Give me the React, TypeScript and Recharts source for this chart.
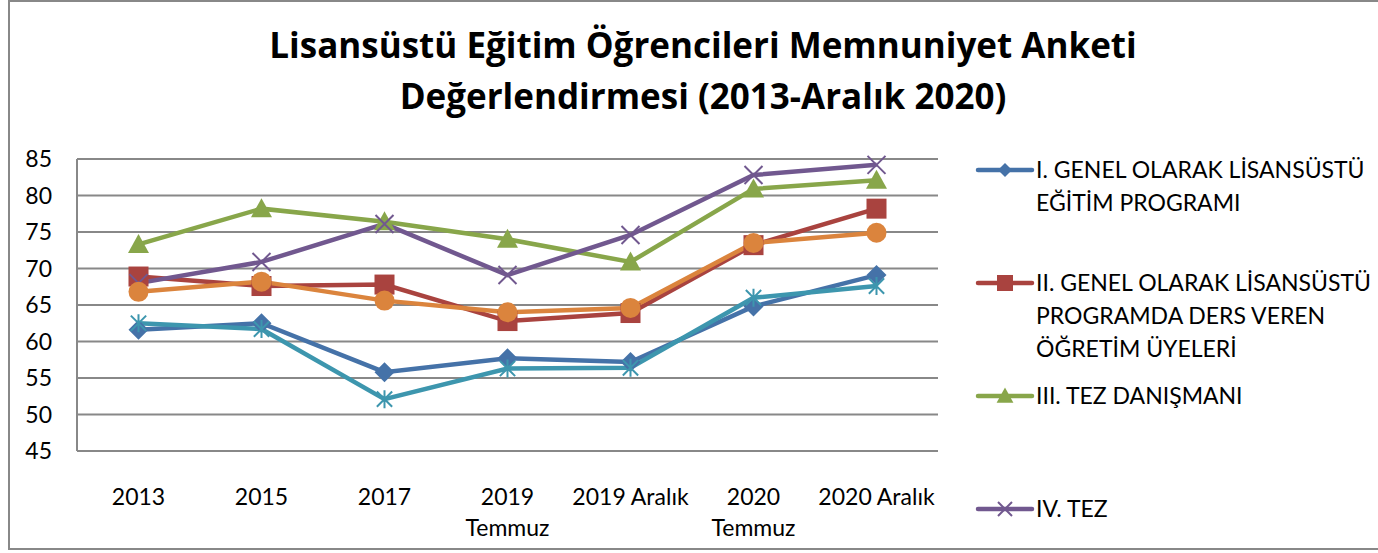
import React from 'react';
import { LineChart, Line, XAxis, YAxis, CartesianGrid } from 'recharts';

// categories and series
const categories = ['2013', '2015', '2017', '2019\nTemmuz', '2019 Aralık', '2020\nTemmuz', '2020 Aralık'];
const genelEgitim = [61.6, 62.5, 55.8, 57.7, 57.2, 64.8, 69.1];
const dersVeren = [68.9, 67.6, 67.8, 62.8, 63.9, 73.2, 78.2];
const tezDanismani = [73.3, 78.2, 76.4, 74.0, 70.9, 80.9, 82.1];
const tez = [68.0, 70.9, 76.1, 69.1, 74.6, 82.8, 84.2];
const seri5 = [66.8, 68.2, 65.6, 64.0, 64.6, 73.5, 74.9];
const seri6 = [62.5, 61.7, 52.1, 56.3, 56.4, 66.0, 67.6];
const yTicks = [45, 50, 55, 60, 65, 70, 75, 80, 85];

const seriesNames = [
  'I. GENEL OLARAK LİSANSÜSTÜ EĞİTİM PROGRAMI',
  'II. GENEL OLARAK LİSANSÜSTÜ PROGRAMDA DERS VEREN ÖĞRETİM ÜYELERİ',
  'III. TEZ DANIŞMANI',
  'IV. TEZ',
];
const legendLines = [
  ['I. GENEL OLARAK LİSANSÜSTÜ', 'EĞİTİM PROGRAMI'],
  ['II. GENEL OLARAK LİSANSÜSTÜ', 'PROGRAMDA DERS VEREN', 'ÖĞRETİM ÜYELERİ'],
  ['III. TEZ DANIŞMANI'],
  ['IV. TEZ'],
];

const data = categories.map((c, i) => ({
  cat: c,
  s1: genelEgitim[i],
  s2: dersVeren[i],
  s3: tezDanismani[i],
  s4: tez[i],
  s5: seri5[i],
  s6: seri6[i],
}));

const BLUE = '#4572a8';
const RED = '#a9433f';
const GREEN = '#88a64a';
const PURPLE = '#71588f';
const ORANGE = '#db843d';
const TEAL = '#3d96ae';
const FONT = 'Lato, "Open Sans", sans-serif';

type Shape = 'diamond' | 'square' | 'triangle' | 'x' | 'circle' | 'star';

function marker(shape: Shape, color: string, cx: number, cy: number, s: number) {
  switch (shape) {
    case 'diamond':
      return <path d={`M${cx},${cy - s}L${cx + s},${cy}L${cx},${cy + s}L${cx - s},${cy}Z`} fill={color} />;
    case 'square':
      return <rect x={cx - s} y={cy - s} width={2 * s} height={2 * s} fill={color} />;
    case 'triangle':
      return <path d={`M${cx},${cy - s * 1.05}L${cx + s * 1.05},${cy + s * 0.85}L${cx - s * 1.05},${cy + s * 0.85}Z`} fill={color} />;
    case 'circle':
      return <circle cx={cx} cy={cy} r={s} fill={color} />;
    case 'x':
      return (
        <path d={`M${cx - s},${cy - s}L${cx + s},${cy + s}M${cx - s},${cy + s}L${cx + s},${cy - s}`} stroke={color} strokeWidth={2} fill="none" />
      );
    case 'star':
      return (
        <path
          d={`M${cx - s * 0.85},${cy - s * 0.85}L${cx + s * 0.85},${cy + s * 0.85}M${cx - s * 0.85},${cy + s * 0.85}L${cx + s * 0.85},${cy - s * 0.85}M${cx},${cy - s}L${cx},${cy + s}`}
          stroke={color}
          strokeWidth={2}
          fill="none"
        />
      );
  }
  return null;
}

const dot = (shape: Shape, color: string, s: number) => (props: any) => {
  const { cx, cy, index } = props;
  if (cx == null || cy == null) return <g key={index} />;
  return <g key={index}>{marker(shape, color, cx, cy, s)}</g>;
};

const XTick = (props: any) => {
  const { x, y, payload } = props;
  const lines = String(payload.value).split('\n');
  return (
    <g>
      {lines.map((l, i) => (
        <text key={i} x={x} y={y + 46 + i * 31} textAnchor="middle" fontSize={23} fontFamily={FONT} fill="#000">
          {l}
        </text>
      ))}
    </g>
  );
};

const legendShapes: [Shape, string, number][] = [
  ['diamond', BLUE, 7],
  ['square', RED, 8],
  ['triangle', GREEN, 8],
  ['x', PURPLE, 7],
];

// legend drawn beside the chart (only the first four series are listed in the reference)
const LegendBox = () => (
  <svg width={420} height={420} style={{ position: 'absolute', left: 974, top: 140 }}>
    {legendLines.map((lines, i) => {
      const top = 20 + i * 113;
      const [shape, color, s] = legendShapes[i];
      return (
        <g key={seriesNames[i]}>
          <line x1={4} x2={58} y1={top + 10} y2={top + 10} stroke={color} strokeWidth={4.5} strokeLinecap="round" />
          {marker(shape, color, 31, top + 10, s)}
          {lines.map((l, j) => (
            <text key={j} x={62} y={top + 18 + j * 33} fontSize={23} fontFamily={FONT} fill="#000">
              {l}
            </text>
          ))}
        </g>
      );
    })}
  </svg>
);

export default function App() {
  return (
    <div style={{ position: 'absolute', left: 0, top: 0, width: 1378, height: 553, background: '#fff', overflow: 'hidden' }}>
      <div
        style={{
          position: 'absolute',
          left: 8,
          top: 0,
          width: 1380,
          height: 550,
          border: '2px solid #888',
          boxSizing: 'border-box',
        }}
      />
      <div
        style={{
          position: 'absolute',
          left: 0,
          top: 19,
          width: 1406,
          textAlign: 'center',
          fontFamily: '"Open Sans", Lato, sans-serif',
          fontWeight: 'bold',
          fontSize: 35,
          lineHeight: '51px',
          color: '#000',
        }}
      >
        Lisansüstü Eğitim Öğrencileri Memnuniyet Anketi
        <br />
        Değerlendirmesi (2013-Aralık 2020)
      </div>
      <div style={{ position: 'absolute', left: 0, top: 0 }}>
        <LineChart width={1378} height={553} data={data} margin={{ top: 159, right: 440, bottom: 0, left: 0 }}>
          <CartesianGrid vertical={false} stroke="#888" strokeWidth={2} />
          <XAxis
            dataKey="cat"
            tick={<XTick />}
            tickLine={false}
            axisLine={{ stroke: '#888', strokeWidth: 2 }}
            interval={0}
            height={102}
            padding={{ left: 61.5, right: 61.5 }}
          />
          <YAxis
            domain={[45, 85]}
            ticks={yTicks}
            width={77}
            tickLine={false}
            tickSize={0}
            tickMargin={25}
            axisLine={{ stroke: '#888', strokeWidth: 2 }}
            tick={{ fontSize: 23, fontFamily: FONT, fill: '#000' }}
            interval={0}
          />
          <Line dataKey="s1" name={seriesNames[0]} stroke={BLUE} strokeWidth={4.5} dot={dot('diamond', BLUE, 10)} activeDot={false} isAnimationActive={false} />
          <Line dataKey="s2" name={seriesNames[1]} stroke={RED} strokeWidth={4.5} dot={dot('square', RED, 10)} activeDot={false} isAnimationActive={false} />
          <Line dataKey="s3" name={seriesNames[2]} stroke={GREEN} strokeWidth={4.5} dot={dot('triangle', GREEN, 10)} activeDot={false} isAnimationActive={false} />
          <Line dataKey="s4" name={seriesNames[3]} stroke={PURPLE} strokeWidth={4.5} dot={dot('x', PURPLE, 9)} activeDot={false} isAnimationActive={false} />
          <Line dataKey="s5" stroke={ORANGE} strokeWidth={4.5} dot={dot('circle', ORANGE, 10)} activeDot={false} isAnimationActive={false} />
          <Line dataKey="s6" stroke={TEAL} strokeWidth={4.5} dot={dot('star', TEAL, 9)} activeDot={false} isAnimationActive={false} />
        </LineChart>
      </div>
      <LegendBox />
    </div>
  );
}
